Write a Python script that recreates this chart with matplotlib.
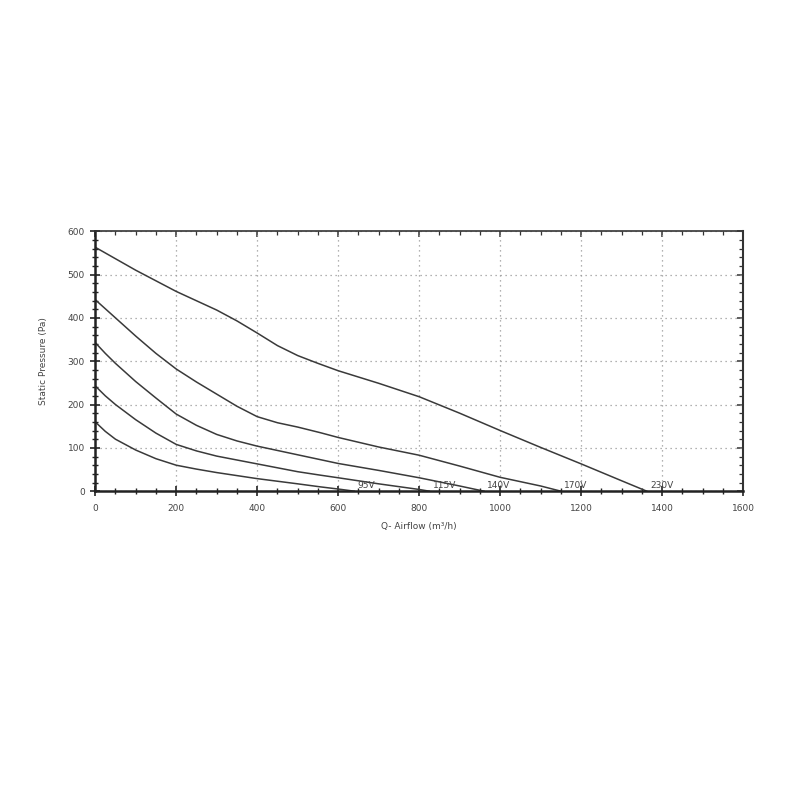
import matplotlib
matplotlib.use('Agg')
import matplotlib.pyplot as plt
from matplotlib.ticker import MultipleLocator, NullFormatter

# ── Fan curves (airflow m³/h, static pressure Pa) ─────────────────────────
q_230 = [0, 100, 200, 300, 350, 400, 450, 500, 550, 600, 700, 800, 900, 1000, 1100, 1200, 1300, 1362]
p_230 = [563, 510, 461, 418, 393, 365, 336, 313, 295, 278, 249, 218, 180, 140, 101, 63, 24, 0]

q_170 = [0, 50, 100, 150, 200, 250, 300, 350, 400, 450, 500, 556, 600, 700, 800, 900, 1000, 1100, 1150]
p_170 = [442, 400, 358, 318, 282, 252, 224, 196, 172, 158, 148, 135, 124, 102, 83, 58, 32, 12, 0]

q_140 = [0, 25, 50, 100, 150, 200, 250, 300, 350, 400, 500, 600, 700, 800, 900, 960]
p_140 = [343, 318, 295, 253, 215, 178, 152, 131, 116, 104, 84, 64, 48, 31, 12, 0]

q_115 = [0, 25, 50, 100, 150, 200, 250, 300, 350, 400, 500, 556, 600, 700, 800, 825]
p_115 = [243, 220, 200, 165, 134, 108, 93, 81, 72, 63, 45, 37, 31, 17, 4, 0]

q_95 = [0, 25, 50, 100, 150, 200, 250, 300, 400, 500, 556, 600, 640]
p_95 = [160, 138, 120, 95, 75, 60, 51, 43, 29, 17, 10, 5, 0]

labels = ['95V', '115V', '140V', '170V', '230V']
curves = [(q_95, p_95), (q_115, p_115), (q_140, p_140), (q_170, p_170), (q_230, p_230)]

LINE = '#3a3a3a'
TXT = '#444444'

fig = plt.figure(figsize=(8, 8), dpi=100)
ax = fig.add_axes([0.119, 0.386, 0.81, 0.325])

for (q, p), lab in zip(curves, labels):
    ax.plot(q, p, color=LINE, lw=1.1, solid_joinstyle='round')
    ax.text(q[-1] + 8, 3, lab, fontsize=6.5, color=TXT, ha='left', va='bottom')

ax.set_xlim(0, 1600)
ax.set_ylim(0, 600)
ax.xaxis.set_major_locator(MultipleLocator(200))
ax.xaxis.set_minor_locator(MultipleLocator(50))
ax.yaxis.set_major_locator(MultipleLocator(100))
ax.yaxis.set_minor_locator(MultipleLocator(20))

ax.grid(True, which='major', linestyle=(0, (1, 3)), color='#999999', lw=0.9)
ax.set_axisbelow(True)

for side in ['left', 'bottom']:
    ax.spines[side].set_linewidth(1.8)
    ax.spines[side].set_color('#222222')
ax.spines['top'].set_linewidth(1.2)
ax.spines['top'].set_color('#333333')
ax.spines['right'].set_linewidth(1.5)
ax.spines['right'].set_color('#333333')

# left / bottom ticks cross the axis line
ax.tick_params(which='both', direction='inout', color='#222222',
               labelsize=6.5, labelcolor=TXT)
ax.tick_params(which='major', length=7, width=1.2)
ax.tick_params(which='minor', length=5, width=1.0)
ax.tick_params(axis='x', pad=6)
ax.tick_params(axis='y', pad=4)

# top / right ticks point inward only
top = ax.secondary_xaxis('top')
top.xaxis.set_major_locator(MultipleLocator(200))
top.xaxis.set_minor_locator(MultipleLocator(50))
top.xaxis.set_major_formatter(NullFormatter())
top.tick_params(which='both', direction='in', color='#333333')
top.tick_params(which='major', length=4, width=1.1)
top.tick_params(which='minor', length=3, width=0.9)
top.spines['top'].set_visible(False)

right = ax.secondary_yaxis('right')
right.yaxis.set_major_locator(MultipleLocator(100))
right.yaxis.set_minor_locator(MultipleLocator(20))
right.yaxis.set_major_formatter(NullFormatter())
right.tick_params(which='both', direction='in', color='#333333')
right.tick_params(which='major', length=4, width=1.1)
right.tick_params(which='minor', length=3, width=0.9)
right.spines['right'].set_visible(False)

ax.set_xlabel('Q- Airflow (m³/h)', fontsize=6.5, color=TXT, labelpad=6)
ax.set_ylabel('Static Pressure (Pa)', fontsize=6.5, color=TXT, labelpad=14)

plt.savefig('out.png', dpi=100)
plt.close()
